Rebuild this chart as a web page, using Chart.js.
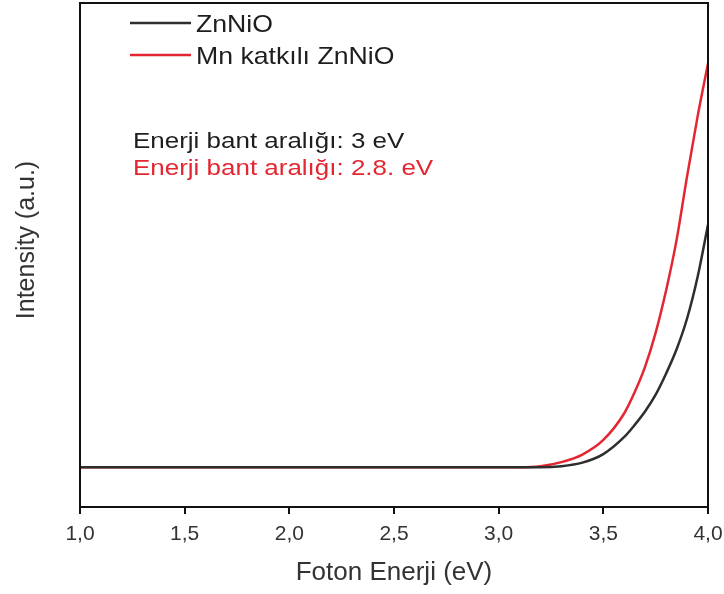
<!DOCTYPE html>
<html>
<head>
<meta charset="utf-8">
<script src="https://cdn.jsdelivr.net/npm/chart.js@4/dist/chart.umd.min.js"></script>
<style>
  html, body { margin: 0; padding: 0; background: #fff; }
  #wrap { width: 724px; height: 594px; position: relative; }
</style>
</head>
<body>
<div id="wrap"><canvas id="c"></canvas></div>
<script>
// ---- data ----
const energies = [1.0, 1.5, 2.0, 2.5, 3.0, 3.1, 3.2, 3.3, 3.4, 3.5, 3.6, 3.65, 3.7, 3.75, 3.8, 3.85, 3.9, 3.95, 4.0];
const znnio    = [7.9, 7.9, 7.9, 7.9, 7.9, 7.9, 7.9, 8.1, 8.8, 10.5, 13.9, 16.3, 19.0, 22.3, 26.5, 31.3, 37.4, 45.6, 56.0];
const mnZnnio  = [7.9, 7.9, 7.9, 7.9, 7.9, 7.9, 8.1, 8.9, 10.4, 13.3, 18.6, 22.8, 27.9, 34.6, 43.0, 53.0, 65.6, 77.4, 88.0];
const seriesLabels = ['ZnNiO', 'Mn katkılı ZnNiO'];
const xTicks = [1.0, 1.5, 2.0, 2.5, 3.0, 3.5, 4.0];
const bandGapLines = ['Enerji bant aralığı: 3 eV', 'Enerji bant aralığı: 2.8. eV'];
const xTitle = 'Foton Enerji (eV)';
const yTitle = 'Intensity (a.u.)';

const BLACK = '#2e2e2e';
const RED = '#e32631';
const FONT = '"Liberation Sans", Arial, sans-serif';

function pts(ys) { return energies.map((x, i) => ({ x, y: ys[i] })); }

function drawText(ctx, txt, x, y, size, color, sx, align) {
  ctx.save();
  ctx.translate(x, y);
  ctx.scale(sx, 1);
  ctx.font = size + 'px ' + FONT;
  ctx.fillStyle = color;
  ctx.textAlign = align || 'left';
  ctx.textBaseline = 'alphabetic';
  ctx.fillText(txt, 0, 0);
  ctx.restore();
}

const overlay = {
  id: 'overlay',
  afterDraw(chart) {
    const { ctx, chartArea: a } = chart;
    ctx.save();
    // frame
    ctx.strokeStyle = '#111';
    ctx.lineWidth = 2;
    ctx.strokeRect(a.left, a.top, a.right - a.left, a.bottom - a.top);
    // legend
    const legY = [23, 55];
    const legBase = [32, 64];
    chart.data.datasets.forEach((ds, i) => {
      ctx.strokeStyle = ds.borderColor;
      ctx.lineWidth = 2.5;
      ctx.beginPath();
      ctx.moveTo(a.left + 50, legY[i]);
      ctx.lineTo(a.left + 111, legY[i]);
      ctx.stroke();
      drawText(ctx, ds.label, a.left + 116, legBase[i], 24, '#1e1e1e', 1.11);
    });
    // band gap annotations
    drawText(ctx, bandGapLines[0], a.left + 53, 148, 22, '#1e1e1e', 1.18);
    drawText(ctx, bandGapLines[1], a.left + 53, 175, 22, RED, 1.18);
    // y title
    ctx.save();
    ctx.translate(27, 240);
    ctx.rotate(-Math.PI / 2);
    ctx.font = '25px ' + FONT;
    ctx.fillStyle = '#333';
    ctx.textAlign = 'center';
    ctx.textBaseline = 'middle';
    ctx.fillText(yTitle, 0, 0);
    ctx.restore();
    ctx.restore();
  }
};

new Chart(document.getElementById('c'), {
  type: 'line',
  data: {
    datasets: [
      { label: seriesLabels[0], data: pts(znnio), borderColor: BLACK, borderWidth: 2.5,
        pointRadius: 0, cubicInterpolationMode: 'monotone', fill: false },
      { label: seriesLabels[1], data: pts(mnZnnio), borderColor: RED, borderWidth: 2.5,
        pointRadius: 0, cubicInterpolationMode: 'monotone', fill: false }
    ]
  },
  options: {
    responsive: true,
    maintainAspectRatio: false,
    animation: false,
    layout: { padding: { left: 80, right: 16, top: 3, bottom: 0 } },
    plugins: { legend: { display: false }, tooltip: { enabled: false } },
    scales: {
      x: {
        type: 'linear',
        min: 1, max: 4,
        afterBuildTicks(scale) { scale.ticks = xTicks.map(v => ({ value: v })); },
        afterFit(scale) { scale.height = 87; scale.paddingLeft = 0; scale.paddingRight = 0; },
        ticks: {
          padding: 8,
          color: '#333',
          font: { family: FONT, size: 21 },
          maxRotation: 0,
          callback: (v) => Number(v).toFixed(1).replace('.', ',')
        },
        grid: { display: true, drawOnChartArea: false, drawTicks: true, tickLength: 7, color: '#111', lineWidth: 2 },
        border: { display: true, color: '#111', width: 2 },
        title: { display: true, text: xTitle, color: '#333', font: { family: FONT, size: 26 }, padding: { top: 0, bottom: 6 } }
      },
      y: {
        display: false,
        min: 0, max: 100
      }
    }
  },
  plugins: [overlay]
});
</script>
</body>
</html>
